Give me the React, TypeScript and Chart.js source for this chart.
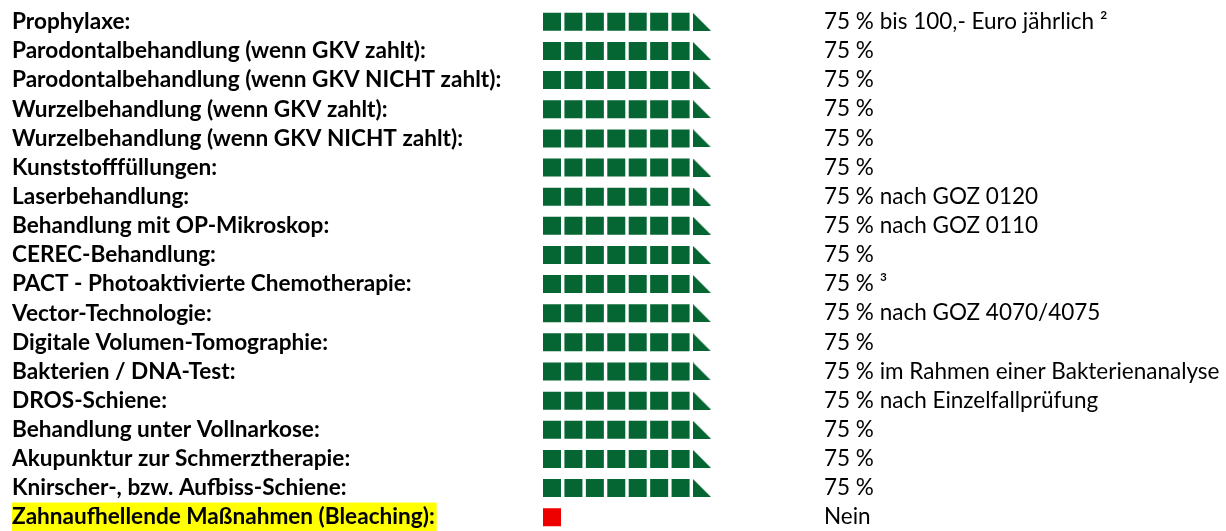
import React, { useEffect, useRef } from "react";
import { Chart, registerables } from "chart.js";

Chart.register(...registerables);

const categories: string[] = [
  "Prophylaxe:",
  "Parodontalbehandlung (wenn GKV zahlt):",
  "Parodontalbehandlung (wenn GKV NICHT zahlt):",
  "Wurzelbehandlung (wenn GKV zahlt):",
  "Wurzelbehandlung (wenn GKV NICHT zahlt):",
  "Kunststofffüllungen:",
  "Laserbehandlung:",
  "Behandlung mit OP-Mikroskop:",
  "CEREC-Behandlung:",
  "PACT - Photoaktivierte Chemotherapie:",
  "Vector-Technologie:",
  "Digitale Volumen-Tomographie:",
  "Bakterien / DNA-Test:",
  "DROS-Schiene:",
  "Behandlung unter Vollnarkose:",
  "Akupunktur zur Schmerztherapie:",
  "Knirscher-, bzw. Aufbiss-Schiene:",
  "Zahnaufhellende Maßnahmen (Bleaching):",
];

const coveragePercent: number[] = [
  75, 75, 75, 75, 75, 75, 75, 75, 75, 75, 75, 75, 75, 75, 75, 75, 75, 0,
];

const notes: string[] = [
  "75 % bis 100,- Euro jährlich ²",
  "75 %",
  "75 %",
  "75 %",
  "75 %",
  "75 %",
  "75 % nach GOZ 0120",
  "75 % nach GOZ 0110",
  "75 %",
  "75 % ³",
  "75 % nach GOZ 4070/4075",
  "75 %",
  "75 % im Rahmen einer Bakterienanalyse",
  "75 % nach Einzelfallprüfung",
  "75 %",
  "75 %",
  "75 %",
  "Nein",
];

const STEP = 10; // one square = 10 %

const GREEN = "#066633";
const RED = "#EE0000";
const YELLOW = "#FFFF00";

function makeTriangle(): HTMLCanvasElement {
  const c = document.createElement("canvas");
  c.width = 18;
  c.height = 18;
  const g = c.getContext("2d")!;
  g.fillStyle = GREEN;
  g.beginPath();
  g.moveTo(0, 0);
  g.lineTo(18, 18);
  g.lineTo(0, 18);
  g.closePath();
  g.fill();
  return c;
}

export default function App() {
  const ref = useRef<HTMLCanvasElement | null>(null);

  useEffect(() => {
    if (!ref.current) return;
    const full: { x: number; y: string }[] = [];
    const half: { x: number; y: string }[] = [];
    const none: { x: number; y: string }[] = [];
    coveragePercent.forEach((v, i) => {
      const cat = categories[i];
      const n = Math.floor(v / STEP);
      for (let k = 1; k <= n; k++) full.push({ x: k, y: cat });
      if (v % STEP >= STEP / 2) half.push({ x: n + 1, y: cat });
      if (v === 0) none.push({ x: 1, y: cat });
    });

    const L = 530.57;
    const R = 820;
    const PAD_LEFT = 12;
    const W = 1226;
    const labelSize = 22.6;
    const lh = 1.2;
    const rowPitch = 29.28;
    const bp = rowPitch / 2 - (labelSize * lh) / 2;

    const chart = new Chart(ref.current, {
      type: "scatter",
      data: {
        datasets: [
          {
            label: "voll",
            data: full,
            pointStyle: "rect",
            pointRadius: 9 / Math.SQRT1_2,
            pointHoverRadius: 9 / Math.SQRT1_2,
            backgroundColor: GREEN,
            borderWidth: 0,
          },
          {
            label: "halb",
            data: half,
            pointStyle: makeTriangle(),
            pointRadius: 9,
            backgroundColor: GREEN,
            borderWidth: 0,
          },
          {
            label: "nein",
            data: none,
            pointStyle: "rect",
            pointRadius: 9 / Math.SQRT1_2,
            pointHoverRadius: 9 / Math.SQRT1_2,
            backgroundColor: RED,
            borderWidth: 0,
          },
        ],
      },
      options: {
        animation: false,
        responsive: true,
        maintainAspectRatio: false,
        layout: { padding: { left: PAD_LEFT, right: 0, top: 14, bottom: 14 } },
        plugins: {
          legend: { display: false },
          tooltip: { enabled: false },
        },
        scales: {
          x: {
            type: "linear",
            min: 0,
            max: (R - L) / 21.43,
            display: false,
          },
          y: {
            type: "category",
            labels: categories,
            offset: true,
            position: "left",
            grid: { display: false, drawTicks: false },
            border: { display: false },
            ticks: {
              autoSkip: false,
              crossAlign: "far",
              padding: 0,
              color: "#000000",
              font: { family: "Lato", size: labelSize, weight: "bold", lineHeight: lh },
              showLabelBackdrop: (ctx: any) => coveragePercent[ctx.index] === 0,
              backdropColor: YELLOW,
              backdropPadding: { left: 0, right: 2, top: bp, bottom: bp },
            },
            afterFit: (scale: any) => {
              scale.width = L - PAD_LEFT;
            },
          },
          y2: {
            type: "category",
            labels: notes,
            offset: true,
            position: "right",
            grid: { display: false, drawTicks: false },
            border: { display: false },
            ticks: {
              autoSkip: false,
              crossAlign: "near",
              padding: 4,
              color: "#000000",
              font: { family: "Lato", size: 22.5, weight: "normal", lineHeight: 1 },
            },
            afterFit: (scale: any) => {
              scale.width = W - R;
            },
          },
        },
      },
    } as any);
    return () => chart.destroy();
  }, []);

  return (
    <div
      style={{
        position: "fixed",
        left: 0,
        top: -8,
        width: 1226,
        height: 555,
        background: "#ffffff",
      }}
    >
      <canvas ref={ref} />
    </div>
  );
}
